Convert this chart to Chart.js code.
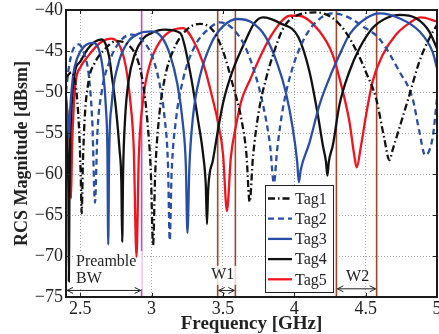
<!DOCTYPE html>
<html lang="en">
<head>
<meta charset="UTF-8">
<title>RCS Magnitude vs Frequency</title>
<script src="https://cdn.jsdelivr.net/npm/chart.js"></script>
<style>
  html, body { margin: 0; padding: 0; background: #fff; overflow: hidden; }
  #wrap { width: 439px; height: 334px; }
</style>
</head>
<body>
<div id="wrap"><canvas id="rcsChart" width="439" height="334"></canvas></div>
<script>
// values: frequency in GHz, magnitude in dBsm
const tag1Freq = [2.4, 2.44, 2.47, 2.49, 2.503, 2.51, 2.518, 2.53, 2.56, 2.6, 2.66, 2.75, 2.84, 2.9, 2.94, 2.97, 2.995, 3.01, 3.025, 3.05, 3.09, 3.15, 3.24, 3.34, 3.43, 3.5, 3.57, 3.63, 3.664, 3.687, 3.71, 3.75, 3.8, 3.87, 3.92, 4.0, 4.15, 4.27, 4.36, 4.45, 4.5, 4.573, 4.631, 4.666, 4.69, 4.736, 4.806, 4.876, 4.945, 5.0];
const tag1Mag  = [-48.2, -47.6, -49.5, -54, -60, -64.8, -59, -53.5, -48.5, -46.5, -45, -43.8, -44.3, -46, -49, -53.5, -60, -68.7, -60, -53.5, -48.5, -45, -42.5, -41.7, -42.5, -45, -49.2, -53.4, -57.5, -63.4, -58, -52.5, -48.5, -44.5, -42.3, -40.8, -40.3, -41, -42.7, -45.5, -47.5, -50.8, -55.7, -58.3, -57, -54.4, -50.4, -46.3, -43.5, -41.8];

const tag2Freq = [2.4, 2.42, 2.45, 2.49, 2.53, 2.56, 2.585, 2.603, 2.62, 2.65, 2.7, 2.78, 2.86, 2.94, 3.0, 3.05, 3.09, 3.115, 3.127, 3.14, 3.17, 3.22, 3.3, 3.4, 3.48, 3.57, 3.65, 3.72, 3.78, 3.83, 3.857, 3.88, 3.92, 3.98, 4.06, 4.15, 4.27, 4.38, 4.48, 4.596, 4.736, 4.829, 4.876, 4.917, 4.969, 5.0];
const tag2Mag  = [-50, -47, -44.8, -44.2, -45.5, -48, -54, -63.5, -55, -50, -46.5, -43.8, -43, -43.8, -45.5, -48.5, -53, -59, -68.1, -60, -53.5, -48.5, -44.5, -42.3, -41.5, -42.3, -44.3, -47.5, -51.5, -56.5, -61.1, -57, -52, -47.5, -43.8, -41.5, -40.4, -40.9, -42, -43.5, -47.5, -50.8, -54.8, -57.7, -55.6, -50.8];

const tag3Freq = [2.4, 2.41, 2.42, 2.43, 2.45, 2.48, 2.53, 2.59, 2.63, 2.66, 2.68, 2.69, 2.696, 2.702, 2.72, 2.76, 2.83, 2.92, 3.0, 3.07, 3.13, 3.18, 3.22, 3.24, 3.251, 3.265, 3.29, 3.34, 3.42, 3.5, 3.6, 3.7, 3.8, 3.88, 3.94, 3.99, 4.02, 4.032, 4.045, 4.106, 4.176, 4.246, 4.316, 4.386, 4.503, 4.6, 4.736, 4.876, 4.969, 5.0];
const tag3Mag  = [-50.5, -52.5, -55.5, -52, -48, -45.8, -44.4, -44, -44.8, -47.5, -52, -57, -68.6, -58, -51.5, -47, -44, -42.8, -42.6, -43.3, -45.5, -49, -54, -59, -67.2, -59, -53, -48, -44, -42, -41.1, -41.5, -43.3, -46.5, -50, -54.5, -58.5, -61, -59.5, -56.2, -51.6, -48.3, -45.5, -43, -41, -40.4, -41, -42.6, -45.1, -47.1];

const tag4Freq = [2.4, 2.41, 2.417, 2.42, 2.424, 2.43, 2.44, 2.463, 2.5, 2.55, 2.6, 2.65, 2.7, 2.72, 2.75, 2.775, 2.788, 2.794, 2.8, 2.815, 2.84, 2.88, 2.94, 3.0, 3.09, 3.2, 3.267, 3.325, 3.36, 3.38, 3.388, 3.396, 3.43, 3.5, 3.57, 3.664, 3.72, 3.78, 3.9, 4.028, 4.106, 4.165, 4.2, 4.222, 4.232, 4.242, 4.27, 4.316, 4.386, 4.456, 4.549, 4.643, 4.736, 4.853, 4.945, 5.0];
const tag4Mag  = [-52.5, -56, -63, -73.1, -63, -56, -51.5, -47.5, -46.3, -44.8, -43.9, -43.6, -45.5, -47.9, -52, -57, -61, -68.3, -60, -53, -48.5, -45.5, -43.5, -42.8, -42.4, -42.8, -47.3, -53.4, -57.5, -61.5, -66.1, -62, -58.3, -51.4, -47.3, -43.5, -41.6, -40.9, -41.6, -43.3, -47.5, -52.8, -56.5, -58.5, -60.2, -58.5, -56.5, -51.6, -47.5, -44.7, -42.2, -41, -40.6, -41, -42.6, -44.7];

const tag5Freq = [2.4, 2.415, 2.428, 2.435, 2.442, 2.455, 2.47, 2.5, 2.56, 2.64, 2.72, 2.78, 2.82, 2.85, 2.875, 2.894, 2.91, 2.94, 2.99, 3.06, 3.14, 3.22, 3.3, 3.37, 3.43, 3.463, 3.5, 3.528, 3.555, 3.587, 3.63, 3.69, 3.78, 3.85, 3.92, 3.97, 4.03, 4.176, 4.27, 4.328, 4.386, 4.42, 4.437, 4.468, 4.503, 4.549, 4.619, 4.713, 4.806, 4.887, 5.0];
const tag5Mag  = [-51, -53.5, -57, -63, -57, -51.5, -48.5, -47, -45.5, -44, -43.5, -44.5, -47, -51, -57, -70.1, -58, -51, -46.5, -43.8, -42.5, -42.2, -44, -47, -51, -53.5, -57.5, -64.5, -58, -54.5, -51, -48.5, -45, -42.8, -41.2, -40.7, -40.7, -42.6, -45.5, -49.1, -53.6, -57.7, -59.2, -56.5, -52.8, -48.7, -45.5, -43, -41.6, -40.9, -41.4];

const tagNames = ['Tag1', 'Tag2', 'Tag3', 'Tag4', 'Tag5'];

const xTickValues = [2.5, 3, 3.5, 4, 4.5, 5];
const xTickLabels = ['2.5', '3', '3.5', '4', '4.5', '5'];
const yTickValues = [-75, -70, -65, -60, -55, -50, -45, -40];
const yTickLabels = ['\u221275', '\u221270', '\u221265', '\u221260', '\u221255', '\u221250', '\u221245', '\u221240'];

// band edges (GHz)
const preambleEdge = 2.93;
const w1Band = [3.463, 3.587];
const w2Band = [4.295, 4.577];

function pts(f, m) {
  return f.map((v, i) => ({ x: v, y: m[i] }));
}

const serif = '"Liberation Serif", "DejaVu Serif", serif';
const BLUE = '#2a4ea6';
const RED = '#f0141e';
const BLACK = '#111111';

function arrow(ctx, x1, x2, y) {
  ctx.beginPath();
  ctx.moveTo(x1, y); ctx.lineTo(x2, y);
  ctx.moveTo(x1 + 6, y - 3); ctx.lineTo(x1, y); ctx.lineTo(x1 + 6, y + 3);
  ctx.moveTo(x2 - 6, y - 3); ctx.lineTo(x2, y); ctx.lineTo(x2 - 6, y + 3);
  ctx.stroke();
}

const overlay = {
  id: 'overlay',
  beforeDatasetsDraw(chart) {
    const { ctx, chartArea: a, scales: { x, y } } = chart;
    ctx.save();
    // vertical band markers
    ctx.lineWidth = 1.6;
    ctx.strokeStyle = '#c04cc4';
    let px = x.getPixelForValue(preambleEdge);
    ctx.beginPath(); ctx.moveTo(px, a.top); ctx.lineTo(px, a.bottom); ctx.stroke();
    ctx.strokeStyle = '#a3452b';
    [w1Band[0], w1Band[1], w2Band[0], w2Band[1]].forEach(f => {
      const p = x.getPixelForValue(f);
      ctx.beginPath(); ctx.moveTo(p, a.top); ctx.lineTo(p, a.bottom); ctx.stroke();
    });
    // white boxes behind labels
    ctx.fillStyle = 'rgba(255,255,255,0.8)';
    ctx.font = '16px ' + serif;
    const pw = ctx.measureText('Preamble').width;
    const lx = x.getPixelForValue(2.47);
    ctx.fillRect(lx - 3, y.getPixelForValue(-69.4), pw + 9, 38);
    const w1w = ctx.measureText('W1').width;
    const w1x = x.getPixelForValue(3.498);
    ctx.fillRect(w1x - w1w / 2 - 3, y.getPixelForValue(-71.2), w1w + 6, 19);
    ctx.restore();
  },
  afterDatasetsDraw(chart) {
    const { ctx, chartArea: a, scales: { x, y } } = chart;
    ctx.save();
    // legend
    const lx = 265, ly = 185, lw = 68, lh = 107;
    ctx.fillStyle = '#fff';
    ctx.fillRect(lx, ly, lw, lh);
    ctx.strokeStyle = '#222';
    ctx.lineWidth = 1;
    ctx.strokeRect(lx + 0.5, ly + 0.5, lw, lh);
    ctx.font = '16px ' + serif;
    ctx.textBaseline = 'middle';
    ctx.textAlign = 'left';
    chart.data.datasets.forEach((ds, i) => {
      const ry = ly + 13.5 + i * 20.2;
      ctx.strokeStyle = ds.borderColor;
      ctx.lineWidth = ds.borderWidth;
      ctx.setLineDash(ds.borderDash || []);
      ctx.beginPath(); ctx.moveTo(lx + 3, ry); ctx.lineTo(lx + 27, ry); ctx.stroke();
      ctx.setLineDash([]);
      ctx.fillStyle = '#222';
      ctx.fillText(ds.label, lx + 30, ry + 1);
    });
    // arrows and labels
    ctx.strokeStyle = '#222';
    ctx.lineWidth = 1;
    arrow(ctx, a.left + 1, x.getPixelForValue(preambleEdge) - 1, y.getPixelForValue(-74.2));
    arrow(ctx, x.getPixelForValue(w1Band[0]) + 1, x.getPixelForValue(w1Band[1]) - 1, y.getPixelForValue(-74.2));
    arrow(ctx, x.getPixelForValue(w2Band[0]) + 1, x.getPixelForValue(w2Band[1]) - 1, y.getPixelForValue(-74.0));
    ctx.fillStyle = '#222';
    ctx.textAlign = 'left';
    ctx.fillText('Preamble', x.getPixelForValue(2.47), y.getPixelForValue(-70.7));
    ctx.fillText('BW', x.getPixelForValue(2.47), y.getPixelForValue(-72.8));
    ctx.textAlign = 'center';
    ctx.fillText('W1', x.getPixelForValue(3.498), y.getPixelForValue(-72.3));
    ctx.fillText('W2', x.getPixelForValue(4.444), y.getPixelForValue(-72.5));
    // inner tick marks
    ctx.strokeStyle = '#222';
    xTickValues.forEach(v => {
      const p = Math.round(x.getPixelForValue(v)) + 0.5;
      ctx.beginPath();
      ctx.moveTo(p, a.bottom); ctx.lineTo(p, a.bottom - 4);
      ctx.moveTo(p, a.top); ctx.lineTo(p, a.top + 4);
      ctx.stroke();
    });
    yTickValues.forEach(v => {
      const p = Math.round(y.getPixelForValue(v)) + 0.5;
      ctx.beginPath();
      ctx.moveTo(a.left, p); ctx.lineTo(a.left + 4, p);
      ctx.moveTo(a.right, p); ctx.lineTo(a.right - 4, p);
      ctx.stroke();
    });
    // frame
    ctx.lineWidth = 2;
    ctx.strokeStyle = '#1a1a1a';
    ctx.strokeRect(a.left, a.top, a.right - a.left, a.bottom - a.top);
    ctx.restore();
  }
};

const datasets = [
  { label: tagNames[0], data: pts(tag1Freq, tag1Mag), borderColor: BLACK, borderDash: [7, 3, 1.5, 3] },
  { label: tagNames[1], data: pts(tag2Freq, tag2Mag), borderColor: BLUE, borderDash: [6, 4] },
  { label: tagNames[2], data: pts(tag3Freq, tag3Mag), borderColor: BLUE },
  { label: tagNames[3], data: pts(tag4Freq, tag4Mag), borderColor: BLACK },
  { label: tagNames[4], data: pts(tag5Freq, tag5Mag), borderColor: RED }
].map(d => Object.assign(d, { borderWidth: 2.3, pointRadius: 0, cubicInterpolationMode: 'monotone', fill: false }));

new Chart(document.getElementById('rcsChart'), {
  type: 'line',
  data: { datasets },
  options: {
    responsive: false,
    animation: false,
    devicePixelRatio: 1,
    layout: { padding: { top: 10, right: 2, left: 0, bottom: 0 } },
    plugins: { legend: { display: false }, tooltip: { enabled: false } },
    scales: {
      x: {
        type: 'linear',
        min: 2.4,
        max: 5,
        afterBuildTicks(scale) { scale.ticks = xTickValues.map(v => ({ value: v })); },
        afterFit(scale) { scale.height = 37; scale.paddingLeft = 0; scale.paddingRight = 0; },
        ticks: {
          padding: 1,
          color: '#222',
          font: { family: serif, size: 18 },
          maxRotation: 0,
          autoSkip: false,
          callback: v => xTickLabels[xTickValues.indexOf(v)]
        },
        grid: { color: '#a8a8a8', lineWidth: 1, drawTicks: false },
        border: { display: false, dash: [1, 2] },
        title: {
          display: true,
          text: 'Frequency [GHz]',
          color: '#222',
          font: { family: serif, size: 19, weight: 'bold', lineHeight: 1 },
          padding: { top: 0, bottom: 0 }
        }
      },
      y: {
        type: 'linear',
        min: -75,
        max: -40,
        afterBuildTicks(scale) { scale.ticks = yTickValues.map(v => ({ value: v })); },
        afterFit(scale) { scale.width = 66; scale.paddingTop = 0; scale.paddingBottom = 0; },
        ticks: {
          padding: 3,
          color: '#222',
          font: { family: serif, size: 18 },
          autoSkip: false,
          callback: v => yTickLabels[yTickValues.indexOf(v)]
        },
        grid: { color: '#a8a8a8', lineWidth: 1, drawTicks: false },
        border: { display: false, dash: [1, 2] },
        title: {
          display: true,
          text: 'RCS Magnitude [dBsm]',
          color: '#222',
          font: { family: serif, size: 18, weight: 'bold', lineHeight: 1 },
          padding: { top: 13, bottom: 0 }
        }
      }
    }
  },
  plugins: [overlay]
});
</script>
</body>
</html>
